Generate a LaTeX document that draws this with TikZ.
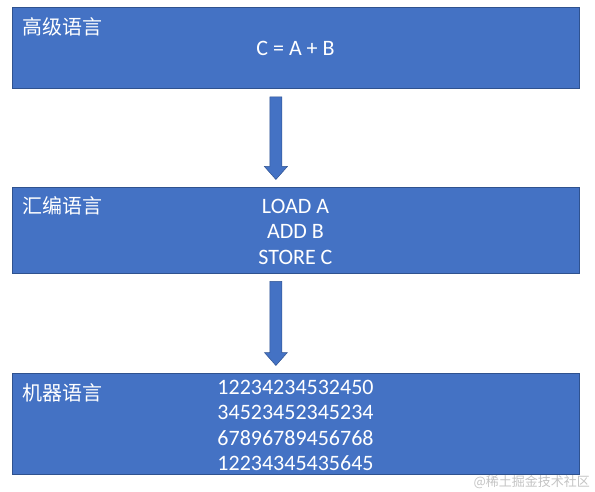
\documentclass[tikz,border=0pt]{standalone}
\usepackage{fontspec}
\setmainfont{Carlito}
\newfontfamily\cjk{Noto Sans CJK SC}
\usetikzlibrary{positioning,calc}
\definecolor{boxblue}{HTML}{4472C4}
\definecolor{boxline}{HTML}{2F528F}
\definecolor{markgray}{HTML}{C4C4C4}
\tikzset{
  langbox/.style={draw=boxline, fill=boxblue, line width=0.8pt, minimum width=567pt, inner sep=0pt, anchor=north west},
  boxtitle/.style={text=white, font=\cjk\fontsize{20}{24}\selectfont, anchor=west, inner sep=0pt},
  boxcode/.style={text=white, font=\fontsize{22}{25.5}\selectfont, align=left, anchor=north, inner sep=0pt},
  bigarrow/.style={fill=boxblue, draw=boxline, line width=0.5pt},
}
\begin{document}
\begin{tikzpicture}[x=1pt, y=-1pt]
\useasboundingbox (0,0) rectangle (595,492);
% the three levels
\node[langbox, minimum height=81pt] (high) at (12,7.5) {};
\node[langbox, minimum height=86pt] (asm) at (12,187) {};
\node[langbox, minimum height=101pt] (mach) at (12,373) {};
% names
\node[boxtitle] (highname) at (22,26.5) {高级语言};
\node[boxtitle] (asmname) at (22,206) {汇编语言};
\node[boxtitle] (machname) at (22,393) {机器语言};
% code
\node[boxcode] (highcode) at (295.5,41) {C = A + B};
\node[boxcode, align=center] (asmcode) at (295.5,199) {LOAD A\\ADD B\\STORE C};
\node[boxcode] (machcode) at (295.5,380) {12234234532450\\34523452345234\\67896789456768\\12234345435645};
% arrows
\foreach \from/\to in {high/asm, asm/mach} {
  \coordinate (top) at ($(\from.south)+(-20,7.5)$);
  \coordinate (tip) at ($(\to.north)+(-20,-7.5)$);
  \draw[bigarrow] ($(top)+(-6,0)$) -- ($(top)+(6,0)$) -- ($(tip)+(6,-13)$)
    -- ($(tip)+(11.5,-13)$) -- (tip) -- ($(tip)+(-11.5,-13)$)
    -- ($(tip)+(-6,-13)$) -- cycle;
}
\node[text=markgray, font=\cjk\fontsize{13}{15}\selectfont, anchor=east, inner sep=0pt] (mark) at (590,482) {@稀土掘金技术社区};
\end{tikzpicture}
\end{document}
